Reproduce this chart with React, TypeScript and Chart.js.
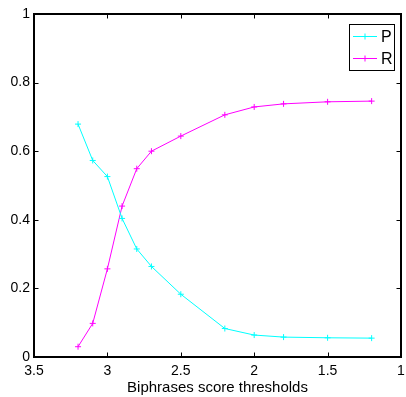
import React, { useEffect, useRef } from "react";
import { Chart, registerables } from "chart.js";

Chart.register(...registerables);

const thresholds = [3.2, 3.1, 3.0, 2.9, 2.8, 2.7, 2.5, 2.2, 2.0, 1.8, 1.5, 1.2];
const precision = [0.679, 0.573, 0.526, 0.404, 0.315, 0.264, 0.183, 0.083, 0.064, 0.058, 0.056, 0.055];
const recall = [0.03, 0.098, 0.257, 0.44, 0.549, 0.6, 0.644, 0.706, 0.729, 0.738, 0.744, 0.746];
const seriesLabels = ["P", "R"];
const seriesColors = ["#00FFFF", "#FF00FF"];
const xTitle = "Biphrases score thresholds";

const FONT = "'Liberation Sans', Arial, Helvetica, sans-serif";

const fmt = (v: any) => String(Number(Number(v).toFixed(2)));

const framePlugin = {
  id: "frame",
  afterDraw(chart: any) {
    const { ctx, chartArea } = chart;
    const { left, right, top, bottom } = chartArea;
    const xs = chart.scales.x;
    const ys = chart.scales.y;
    const len = 4.5;
    ctx.save();
    ctx.strokeStyle = "#000";
    ctx.lineWidth = 1;
    ctx.beginPath();
    xs.ticks.forEach((t: any) => {
      const px = Math.round(xs.getPixelForValue(t.value)) + 0.5;
      ctx.moveTo(px, bottom);
      ctx.lineTo(px, bottom - len);
      ctx.moveTo(px, top);
      ctx.lineTo(px, top + len);
    });
    ys.ticks.forEach((t: any) => {
      const py = Math.round(ys.getPixelForValue(t.value)) + 0.5;
      ctx.moveTo(left, py);
      ctx.lineTo(left + len, py);
      ctx.moveTo(right, py);
      ctx.lineTo(right - len, py);
    });
    ctx.stroke();
    ctx.lineWidth = 2;
    ctx.strokeRect(left, top, right - left, bottom - top);

    // legend box
    const bx = 349, by = 24, bw = 45, bh = 46;
    ctx.fillStyle = "#fff";
    ctx.fillRect(bx, by, bw, bh);
    ctx.lineWidth = 1;
    ctx.strokeStyle = "#000";
    ctx.strokeRect(bx + 0.5, by + 0.5, bw, bh);
    chart.data.datasets.forEach((ds: any, i: number) => {
      const y = by + 12.5 + i * 22;
      ctx.strokeStyle = ds.borderColor;
      ctx.lineWidth = 1;
      ctx.beginPath();
      ctx.moveTo(bx + 4, y);
      ctx.lineTo(bx + 28, y);
      ctx.moveTo(bx + 16, y - 3);
      ctx.lineTo(bx + 16, y + 3);
      ctx.moveTo(bx + 13, y);
      ctx.lineTo(bx + 19, y);
      ctx.stroke();
      ctx.fillStyle = "#000";
      ctx.font = `16px ${FONT}`;
      ctx.textBaseline = "middle";
      ctx.textAlign = "left";
      ctx.fillText(ds.label, bx + 32, y + 1);
    });
    ctx.restore();
  },
};

export default function App() {
  const ref = useRef<HTMLCanvasElement>(null);
  useEffect(() => {
    document.body.style.margin = "0";
    const canvas = ref.current!;
    const chart = new Chart(canvas, {
      type: "line",
      data: {
        datasets: [precision, recall].map((vals, i) => ({
          label: seriesLabels[i],
          data: thresholds.map((t, j) => ({ x: t, y: vals[j] })),
          borderColor: seriesColors[i],
          backgroundColor: seriesColors[i],
          borderWidth: 1,
          pointStyle: "cross",
          pointRadius: 3,
          pointBorderWidth: 1,
          fill: false,
          tension: 0,
        })),
      },
      options: {
        animation: false,
        responsive: false,
        layout: { padding: { top: 14, right: 3, left: 0, bottom: 0 } },
        plugins: { legend: { display: false }, tooltip: { enabled: false } },
        scales: {
          x: {
            type: "linear",
            reverse: true,
            min: 1,
            max: 3.5,
            grid: { display: false, drawTicks: false },
            border: { display: false },
            ticks: {
              stepSize: 0.5,
              color: "#000",
              font: { family: FONT, size: 14 },
              padding: 6,
              maxRotation: 0,
              autoSkip: false,
              callback: fmt,
            },
            title: {
              display: true,
              text: xTitle,
              color: "#000",
              font: { family: FONT, size: 15 },
              padding: { top: 0, bottom: 0 },
            },
            afterFit(s: any) {
              s.height = 40;
              s.paddingLeft = 0;
              s.paddingRight = 0;
            },
          },
          y: {
            type: "linear",
            min: 0,
            max: 1,
            grid: { display: false, drawTicks: false },
            border: { display: false },
            ticks: {
              stepSize: 0.2,
              color: "#000",
              font: { family: FONT, size: 14 },
              padding: 4,
              callback: fmt,
            },
            afterFit(s: any) {
              s.width = 34;
              s.paddingTop = 0;
              s.paddingBottom = 0;
            },
          },
        },
      },
      plugins: [framePlugin],
    } as any);
    return () => chart.destroy();
  }, []);
  return <canvas ref={ref} width={406} height={397} style={{ display: "block" }} />;
}
